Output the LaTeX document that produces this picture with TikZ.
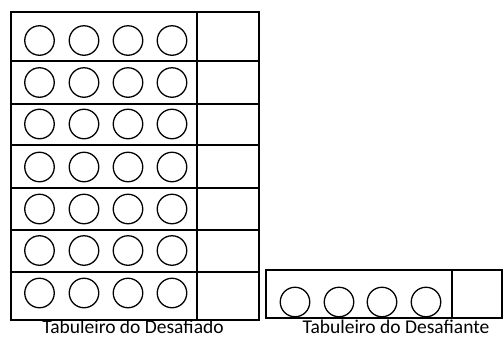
\documentclass[tikz,border=0pt]{standalone}
\usepackage{fontspec}
\setmainfont{Carlito}
\usetikzlibrary{positioning}

\begin{document}
\begin{tikzpicture}
[x=1pt,y=-1pt,%
  cellline/.style={draw,line width=1.4pt},%
  piece/.style={shape=circle,draw,line width=1.3pt,minimum size=29.5pt,inner sep=0pt},%
  boardlabel/.style={inner sep=0pt,text depth=0pt,anchor=base,font=\fontsize{19.5}{23}\selectfont}]
\useasboundingbox (0,0) rectangle (504,338);
%% board of the challenged player: rows
\foreach \row/\top/\bottom/\mid in {
  1/12/61/40.5, 2/61/104/82.5, 3/104/145/124, 4/145/188/167,
  5/188/230/209, 6/230/272/250.5, 7/272/320/293}
{
  \draw[cellline] (11,\top) rectangle (197,\bottom);
  \draw[cellline] (197,\top) rectangle (259,\bottom);
  \foreach \col/\x in {1/39.5, 2/84, 3/128, 4/172}
  {
    \node (a-\row-\col) at (\x,\mid) [piece] {};
  }
}
%% board of the challenger
\draw[cellline] (266,270) rectangle (452,318);
\draw[cellline] (452,270) rectangle (502,318);
\foreach \col/\x in {1/295, 2/339, 3/382, 4/426}
{
  \node (b-\col) at (\x,302) [piece] {};
}
%% labels
\node (labela) at (133,333.5) [boardlabel] {Tabuleiro do Desafiado};
\node (labelb) at (396,333.5) [boardlabel] {Tabuleiro do Desafiante};
\end{tikzpicture}
\end{document}
